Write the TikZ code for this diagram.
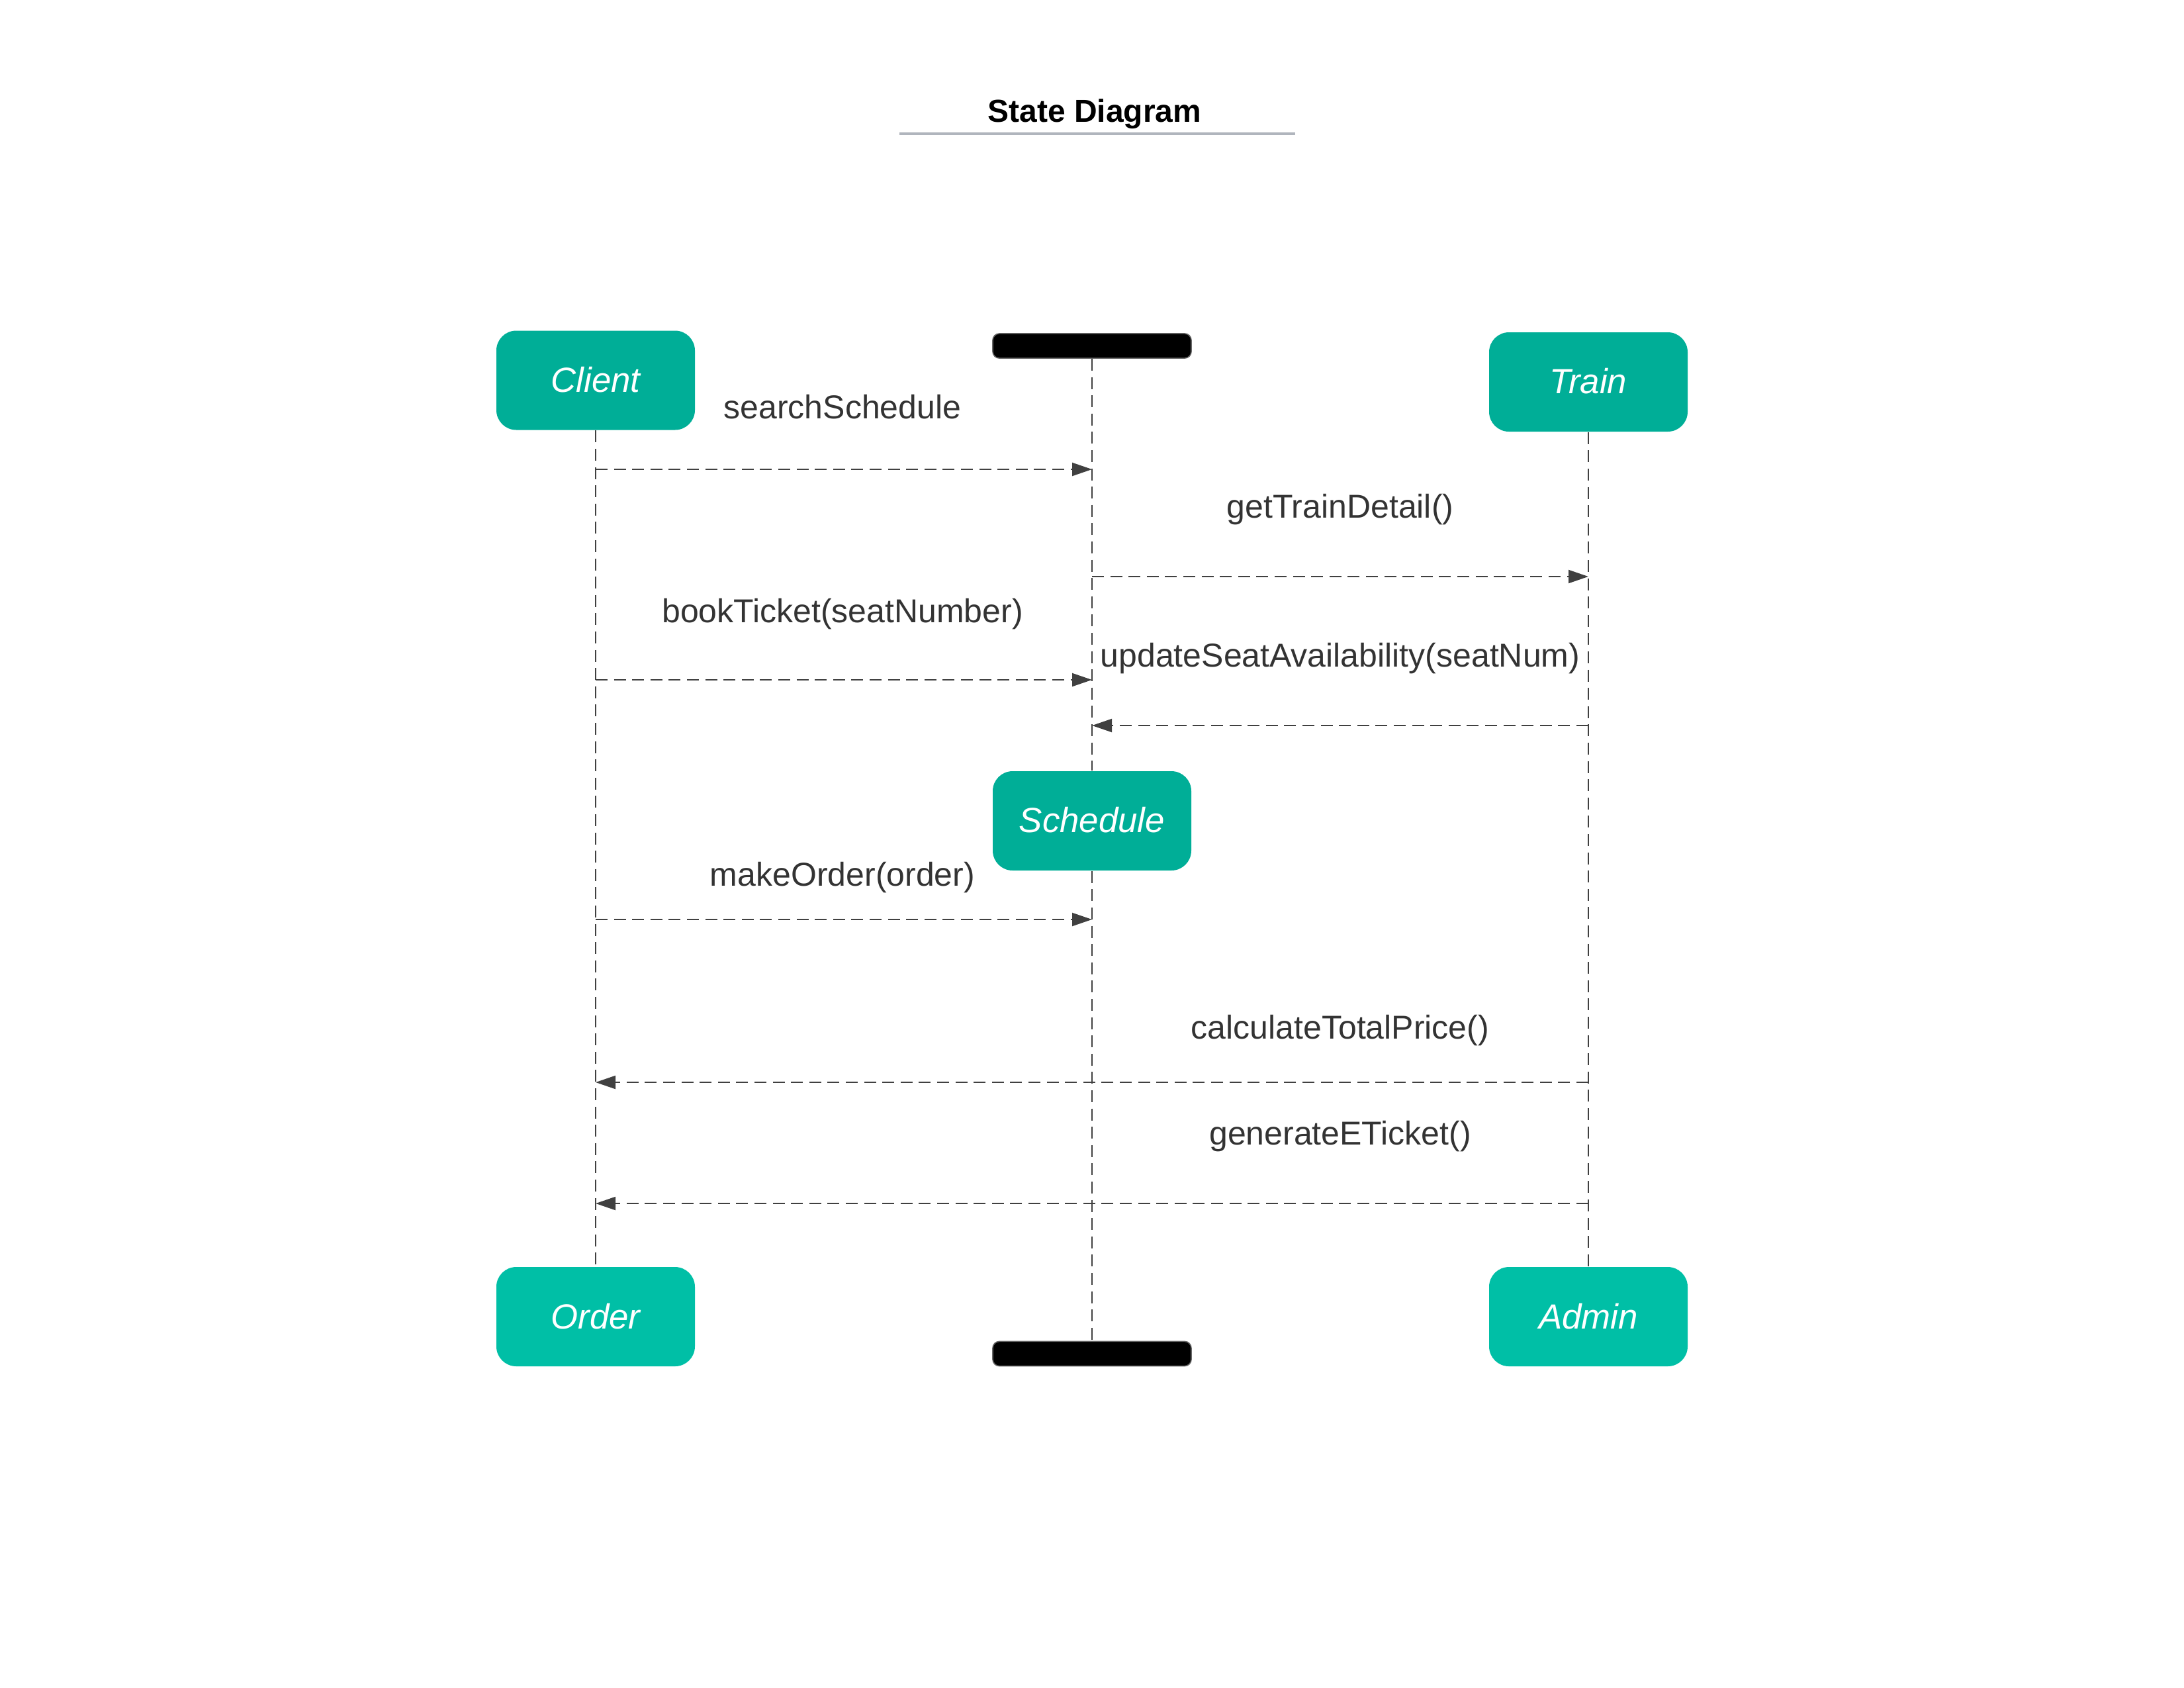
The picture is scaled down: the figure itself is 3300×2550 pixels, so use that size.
\documentclass[tikz,border=0pt]{standalone}
\usepackage{fontspec}
\usepackage{graphicx}
\setmainfont{Liberation Sans}
\usetikzlibrary{arrows.meta}
\definecolor{tealdark}{HTML}{00AE97}
\definecolor{teallight}{HTML}{00BFA6}
\definecolor{linegray}{HTML}{404040}
\definecolor{textgray}{HTML}{333333}
\definecolor{rulegray}{HTML}{B0B5BD}
\begin{document}
\begin{tikzpicture}[x=0.25pt,y=-0.25pt,
  statebox/.style={rectangle,rounded corners=7.5pt,minimum width=75pt,minimum height=37.5pt,inner sep=0pt,text=white,font=\fontsize{13.2}{15}\selectfont\itshape},
  barbox/.style={rectangle,rounded corners=2.5pt,minimum width=75pt,minimum height=9.3pt,inner sep=0pt,fill=black,draw=black!60,line width=0.4pt},
  life/.style={draw=linegray,line width=0.6pt,dash pattern=on 4.5pt off 2.4pt},
  msg/.style={draw=linegray,line width=0.5pt,dash pattern=on 4.5pt off 2.4pt,-{Triangle[length=7.5pt,width=5pt]}},
  lbl/.style={text=textgray,font=\fontsize{12.5}{15}\selectfont,inner sep=0pt}
]
\useasboundingbox (0,0) rectangle (3300,2550);
% title
\node[font=\fontsize{12}{14}\selectfont\bfseries,inner sep=0pt,anchor=base] (title) at (1654,184) {State Diagram};
\draw[rulegray,line width=1pt] (1359,202) coordinate (ruleL) -- (1957,202) coordinate (ruleR);
% nodes
\node[statebox,fill=tealdark] (client) at (900,574.5) {\raisebox{0.7pt}{Client}};
\node[statebox,fill=tealdark] (train) at (2400,577) {\raisebox{0.7pt}{Train}};
\node[statebox,fill=tealdark] (schedule) at (1650,1240) {\raisebox{0.7pt}{Schedule}};
\node[statebox,fill=teallight] (order) at (900,1989) {\raisebox{0.4pt}{Order}};
\node[statebox,fill=teallight] (admin) at (2400,1989) {\raisebox{0.4pt}{Admin}};
\node[barbox] (topbar) at (1650,522.5) {};
\node[barbox] (botbar) at (1650,2045) {};
% lifelines
\draw[life] (client.south) -- (order.north);
\draw[life] (train.south) -- (admin.north);
\draw[life] (topbar.south) -- (schedule.north);
\draw[life] (schedule.south) -- (botbar.north);
% messages
\draw[msg] (client |- 0,709) -- (topbar |- 0,709);
\draw[msg] (topbar |- 0,871) -- (train |- 0,871);
\draw[msg] (client |- 0,1027) -- (topbar |- 0,1027);
\draw[msg] (train |- 0,1096) -- (topbar |- 0,1096);
\draw[msg] (client |- 0,1389) -- (schedule |- 0,1389);
\draw[msg] (train |- 0,1635) -- (client |- 0,1635);
\draw[msg] (train |- 0,1818) -- (client |- 0,1818);
% labels
\node[lbl] (l1) at (1273,615) {searchSchedule};
\node[lbl] (l2) at (2025,770) {getTrainDetail()};
\node[lbl] (l3) at (1273,928) {bookTicket(seatNumber)};
\node[lbl] (l4) at (2025,995) {updateSeatAvailability(seatNum)};
\node[lbl] (l5) at (1273,1326) {makeOrder(order)};
\node[lbl] (l6) at (2025,1557) {calculateTotalPrice()};
\node[lbl] (l7) at (2025,1717) {generateETicket()};
\end{tikzpicture}
\end{document}
